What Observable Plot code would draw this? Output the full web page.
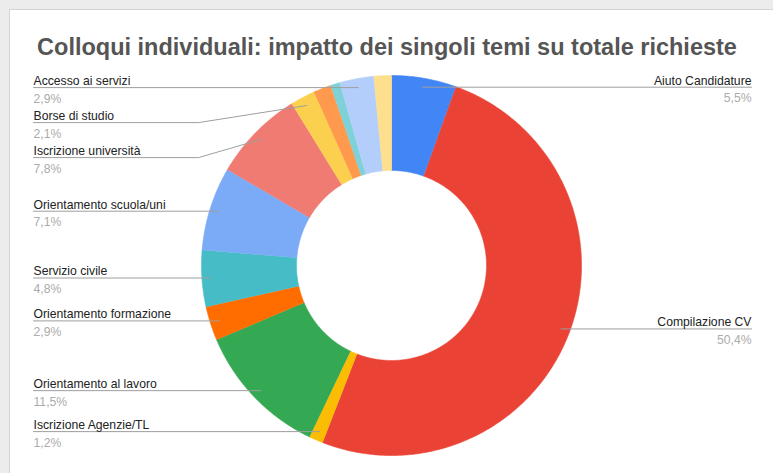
<!DOCTYPE html>
<html>
<head>
<meta charset="utf-8">
<script src="https://cdn.jsdelivr.net/npm/d3@7"></script>
<script src="https://cdn.jsdelivr.net/npm/@observablehq/plot@0.6"></script>
<style>
  html, body { margin: 0; padding: 0; background: #ececec; width: 773px; height: 473px; overflow: hidden; }
  #card { position: absolute; left: 9px; top: 9px; width: 770px; height: 470px; background: #fff; border: 1px solid #d4d4d4; }
  #chart { position: absolute; left: 0; top: 0; }
</style>
</head>
<body>
<div id="card"></div>
<div id="chart"></div>
<script>
// ---- data ----
const title = "Colloqui individuali: impatto dei singoli temi su totale richieste";
const categories = [
  "Aiuto Candidature",
  "Compilazione CV",
  "Iscrizione Agenzie/TL",
  "Orientamento al lavoro",
  "Orientamento formazione",
  "Servizio civile",
  "Orientamento scuola/uni",
  "Iscrizione università",
  "Borse di studio",
  "Altro 1",
  "Altro 2",
  "Accesso ai servizi",
  "Altro 3"
];
const values = [5.5, 50.4, 1.2, 11.5, 2.9, 4.8, 7.1, 7.8, 2.1, 1.5, 0.8, 2.9, 1.5];
const hiddenLabels = ["Altro 1", "Altro 2", "Altro 3"];

// ---- styles / layout ----
const palette = ["#4285F4", "#EA4335", "#FBBC04", "#34A853", "#FF6D01", "#46BDC6",
                 "#7BAAF7", "#F07B72", "#FCD04F", "#FF994D", "#7ED1D7", "#B3CEFB", "#FDDF8E"];
const W = 773, H = 473;
const cx = 391, cy = 265, R = 190, R0 = 95, Rdot = 181;
const gap = 35, leftX = 33, rightX = 751, bendX = 198;

const data = categories.map((name, i) => ({name, value: values[i]}));
const arcs = d3.pie().sort(null).value(d => d.value)(data);

// slice polygons
const pts = [];
for (const a of arcs) {
  const n = Math.max(3, Math.ceil((a.endAngle - a.startAngle) / 0.01));
  for (let i = 0; i <= n; i++) {
    const t = a.startAngle + (a.endAngle - a.startAngle) * i / n;
    pts.push({name: a.data.name, x: cx + R * Math.sin(t), y: cy - R * Math.cos(t)});
  }
  for (let i = n; i >= 0; i--) {
    const t = a.startAngle + (a.endAngle - a.startAngle) * i / n;
    pts.push({name: a.data.name, x: cx + R0 * Math.sin(t), y: cy - R0 * Math.cos(t)});
  }
}

// labels
const labs = arcs.filter(a => !hiddenLabels.includes(a.data.name)).map(a => {
  const m = (a.startAngle + a.endAngle) / 2;
  return {
    name: a.data.name,
    pct: d3.format(".1f")(a.data.value).replace(".", ",") + "%",
    dx: cx + Rdot * Math.sin(m),
    dy: cy - Rdot * Math.cos(m),
    side: Math.sin(m) < 0 ? "left" : "right"
  };
});
for (const side of ["left", "right"]) {
  const s = labs.filter(d => d.side === side).sort((a, b) => a.dy - b.dy);
  let prev = -Infinity;
  for (const d of s) { d.ly = Math.max(d.dy, prev + gap); prev = d.ly; }
}
const leaders = [];
for (const d of labs) {
  if (d.side === "left") {
    leaders.push({name: d.name, x: leftX, y: d.ly});
    if (d.ly - d.dy > 1) leaders.push({name: d.name, x: bendX, y: d.ly});
    leaders.push({name: d.name, x: d.dx, y: d.dy});
  } else {
    leaders.push({name: d.name, x: d.dx, y: d.dy});
    if (d.ly - d.dy > 1) leaders.push({name: d.name, x: W - bendX, y: d.ly});
    leaders.push({name: d.name, x: rightX, y: d.ly});
  }
}
const left = labs.filter(d => d.side === "left");
const right = labs.filter(d => d.side === "right");

const font = "'Liberation Sans', Arial, sans-serif";
const fs = 12.2;
const chart = Plot.plot({
  width: W, height: H,
  margin: 0,
  x: {domain: [0, W], range: [0, W], axis: null},
  y: {domain: [0, H], range: [0, H], axis: null},
  color: {domain: categories, range: palette},
  style: {background: "transparent", fontFamily: font},
  marks: [
    Plot.line(pts, {x: "x", y: "y", z: "name", fill: "name", stroke: "name", strokeWidth: 0.6, curve: "linear"}),
    Plot.line(leaders, {x: "x", y: "y", z: "name", stroke: "#9e9e9e", strokeWidth: 1}),
    Plot.text(left, {x: leftX, y: "ly", text: "name", textAnchor: "start", dy: -6.5, fontSize: fs, fill: "#222"}),
    Plot.text(left, {x: leftX, y: "ly", text: "pct", textAnchor: "start", dy: 11, fontSize: fs, fill: "#ababab"}),
    Plot.text(right, {x: rightX, y: "ly", text: "name", textAnchor: "end", dy: -6.5, fontSize: fs, fill: "#222"}),
    Plot.text(right, {x: rightX, y: "ly", text: "pct", textAnchor: "end", dy: 11, fontSize: fs, fill: "#ababab"}),
    Plot.text([title], {frameAnchor: "top", dy: 47, lineAnchor: "middle", text: d => d, fontSize: 23.5, fontWeight: "bold", fill: "#555"})
  ]
});
document.getElementById("chart").appendChild(chart);
</script>
</body>
</html>
